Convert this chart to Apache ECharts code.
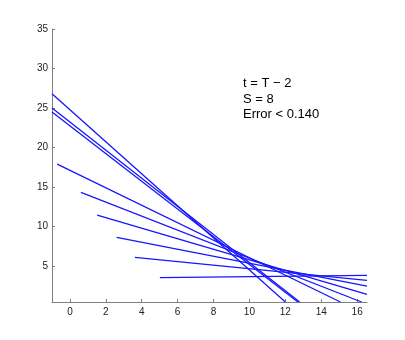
<!DOCTYPE html>
<html>
<head>
<meta charset="utf-8">
<script src="https://cdn.jsdelivr.net/npm/echarts@6/dist/echarts.min.js"></script>
<style>html,body{margin:0;padding:0;background:#fff}#c{width:405px;height:340px}</style>
</head>
<body>
<div id="c"></div>
<script>
// Each line segment: [x1, y1, x2, y2]
const lineA = [-1.0, 26.8, 12.0, 0.44];
const lineB = [-1.0, 25.0, 12.8, 0.44];
const lineC = [-1.0, 24.5, 12.7, 0.44];
const lineD = [-0.71, 17.9, 15.07, 0.44];
const lineE = [0.61, 14.33, 16.25, 0.44];
const lineF = [1.52, 11.45, 16.55, 1.42];
const lineG = [2.6, 8.63, 16.55, 2.45];
const lineH = [3.62, 6.1, 16.55, 3.17];
const lineI = [5.01, 3.52, 16.55, 3.8];
const segments = [lineA, lineB, lineC, lineD, lineE, lineF, lineG, lineH, lineI];

const xTicks = [0, 2, 4, 6, 8, 10, 12, 14, 16];
const yTicks = [5, 10, 15, 20, 25, 30, 35];
const xRange = [-1, 16.55];
const yRange = [0.44, 35];
const annotation = ['t = T \u2212 2', 'S = 8', 'Error < 0.140'];

const chart = echarts.init(document.getElementById('c'), null, {renderer: 'canvas'});
const axisLineStyle = {show: true, onZero: false, lineStyle: {color: '#808080', width: 1}};
const tickStyle = {show: true, inside: true, length: 3, lineStyle: {color: '#808080'}};
const labelStyle = {color: '#222', fontSize: 10, fontFamily: 'Liberation Sans, Arial, sans-serif'};
chart.setOption({
  animation: false,
  backgroundColor: '#fff',
  color: ['#0000ff'],
  grid: {left: 52, right: 38, top: 29, bottom: 38, containLabel: false},
  xAxis: {
    type: 'value', min: xRange[0], max: xRange[1],
    axisLine: axisLineStyle,
    splitLine: {show: false},
    axisTick: Object.assign({}, tickStyle, {customValues: xTicks}),
    axisLabel: Object.assign({}, labelStyle, {customValues: xTicks, margin: 5})
  },
  yAxis: {
    type: 'value', min: yRange[0], max: yRange[1],
    axisLine: axisLineStyle,
    splitLine: {show: false},
    axisTick: Object.assign({}, tickStyle, {customValues: yTicks}),
    axisLabel: Object.assign({}, labelStyle, {customValues: yTicks, margin: 4})
  },
  graphic: [{
    type: 'text', left: 243, top: 76,
    style: {
      text: annotation.join('\n'),
      font: '13px "Liberation Sans", Arial, sans-serif',
      fill: '#000', lineHeight: 15.5
    }
  }],
  series: segments.map((s, i) => ({
    type: 'line',
    name: 'L' + i,
    color: '#1515ff',
    data: [[s[0], s[1]], [s[2], s[3]]],
    symbol: 'none',
    clip: true,
    itemStyle: {color: '#1515ff'},
    lineStyle: {color: '#1515ff', width: 1.3}
  }))
});
</script>
</body>
</html>
